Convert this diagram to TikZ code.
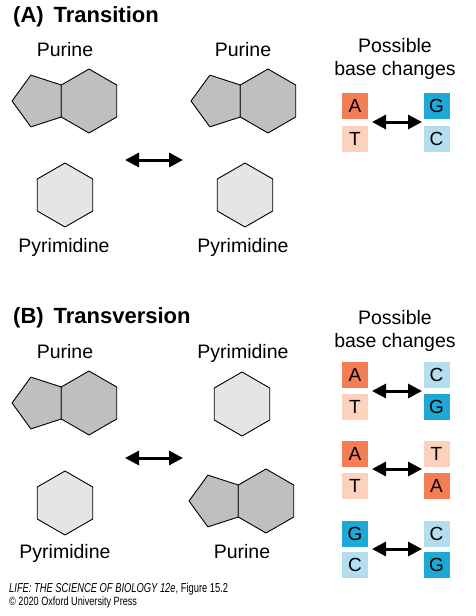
\documentclass[tikz,border=0pt]{standalone}
\usepackage{fontspec}
\setmainfont{Liberation Sans}
\usetikzlibrary{arrows.meta}
\definecolor{aorange}{HTML}{F37D55}
\definecolor{tpeach}{HTML}{FCD2BC}
\definecolor{gblue}{HTML}{1EA8D6}
\definecolor{clight}{HTML}{B4DDF0}
\definecolor{purgray}{HTML}{BFBFBF}
\definecolor{pyrgray}{HTML}{E5E5E5}
\tikzset{
  ring/.style={draw=black, line width=0.9pt, line join=round},
  purinepic/.pic={
    \path[ring, fill=purgray] (-27.71,-16) -- (-58.14,-25.89) -- (-76.95,0) -- (-58.14,25.89) -- (-27.71,16) -- cycle;
    \path[ring, fill=purgray] (0,-32) -- (27.71,-16) -- (27.71,16) -- (0,32) -- (-27.71,16) -- (-27.71,-16) -- cycle;
  },
  pyrimidinepic/.pic={
    \path[ring, fill=pyrgray] (0,-32) -- (27.71,-16) -- (27.71,16) -- (0,32) -- (-27.71,16) -- (-27.71,-16) -- cycle;
  },
  lab/.style={font=\fontsize{19.5}{24}\selectfont, inner sep=0pt, anchor=base},
  ttl/.style={font=\fontsize{22}{26}\selectfont\bfseries, inner sep=0pt, anchor=base west},
  basebox/.style={minimum size=26pt, inner sep=0pt, font=\fontsize{19}{20}\selectfont},
  dbl/.style={line width=3pt, {Triangle[length=14pt,width=14pt]}-{Triangle[length=14pt,width=14pt]}},
  foot/.style={inner sep=0pt, anchor=base west},
}
\begin{document}
\begin{tikzpicture}[x=1pt, y=-1pt]
\path[use as bounding box, fill=white] (0,0) rectangle (475,616);

% ---------- (A) Transition ----------
\node[ttl] (titleA) at (13,22) {(A)\hspace{0.45em}Transition};
\node[lab] (purAL) at (65,56) {Purine};
\node[lab] (purAR) at (243,56) {Purine};
\pic at (89,101) {purinepic};
\pic at (268,101) {purinepic};
\pic at (65,195) {pyrimidinepic};
\pic at (245,195) {pyrimidinepic};
\node[lab] (pyrAL) at (64,252) {Pyrimidine};
\node[lab] (pyrAR) at (243,252) {Pyrimidine};
\coordinate (arAl) at (125,160);
\coordinate (arAr) at (183,160);
\draw[dbl] (arAl) -- (arAr);

\node[lab] (posA) at (395,52) {Possible};
\node[lab] (bcA) at (395,75) {base changes};
\node[basebox, fill=aorange] (A1a) at (355,106) {A};
\node[basebox, fill=tpeach] (A1t) at (355,138.5) {T};
\node[basebox, fill=gblue] (A1g) at (436.5,106) {G};
\node[basebox, fill=clight] (A1c) at (436.5,138.5) {C};
\coordinate (bA1l) at (372,122);
\coordinate (bA1r) at (422,122);
\draw[dbl] (bA1l) -- (bA1r);

% ---------- (B) Transversion ----------
\node[ttl] (titleB) at (13,323) {(B)\hspace{0.45em}Transversion};
\node[lab] (purBL) at (65,358) {Purine};
\node[lab] (pyrBR) at (243,358) {Pyrimidine};
\pic at (89,403) {purinepic};
\pic at (242,404) {pyrimidinepic};
\pic at (65,503) {pyrimidinepic};
\pic at (266,501) {purinepic};
\node[lab] (pyrBL) at (65,558) {Pyrimidine};
\node[lab] (purBR) at (242,558) {Purine};
\coordinate (arBl) at (125,458);
\coordinate (arBr) at (183,458);
\draw[dbl] (arBl) -- (arBr);

\node[lab] (posB) at (395,324) {Possible};
\node[lab] (bcB) at (395,347) {base changes};

\node[basebox, fill=aorange] (B1a) at (355,375) {A};
\node[basebox, fill=tpeach] (B1t) at (355,406.5) {T};
\node[basebox, fill=clight] (B1c) at (436.5,375) {C};
\node[basebox, fill=gblue] (B1g) at (436.5,406.5) {G};
\coordinate (bB1l) at (372,391);
\coordinate (bB1r) at (422,391);
\draw[dbl] (bB1l) -- (bB1r);

\node[basebox, fill=aorange] (B2a) at (355,453.5) {A};
\node[basebox, fill=tpeach] (B2t) at (355,485.5) {T};
\node[basebox, fill=tpeach] (B2t2) at (436.5,453.5) {T};
\node[basebox, fill=aorange] (B2a2) at (436.5,485.5) {A};
\coordinate (bB2l) at (372,469);
\coordinate (bB2r) at (422,469);
\draw[dbl] (bB2l) -- (bB2r);

\node[basebox, fill=gblue] (B3g) at (355,533.5) {G};
\node[basebox, fill=clight] (B3c) at (355,565) {C};
\node[basebox, fill=clight] (B3c2) at (436.5,533.5) {C};
\node[basebox, fill=gblue] (B3g2) at (436.5,565) {G};
\coordinate (bB3l) at (372,549);
\coordinate (bB3r) at (422,549);
\draw[dbl] (bB3l) -- (bB3r);

% ---------- footer ----------
\node[foot, font=\fontsize{13}{15}\selectfont] (foot1) at (9,592) {\scalebox{0.72}[1]{\textit{LIFE: THE SCIENCE OF BIOLOGY 12e}, Figure 15.2}};
\node[foot, font=\fontsize{12}{14}\selectfont] (foot2) at (9,605) {\scalebox{0.76}[1]{© 2020 Oxford University Press}};
\end{tikzpicture}
\end{document}
